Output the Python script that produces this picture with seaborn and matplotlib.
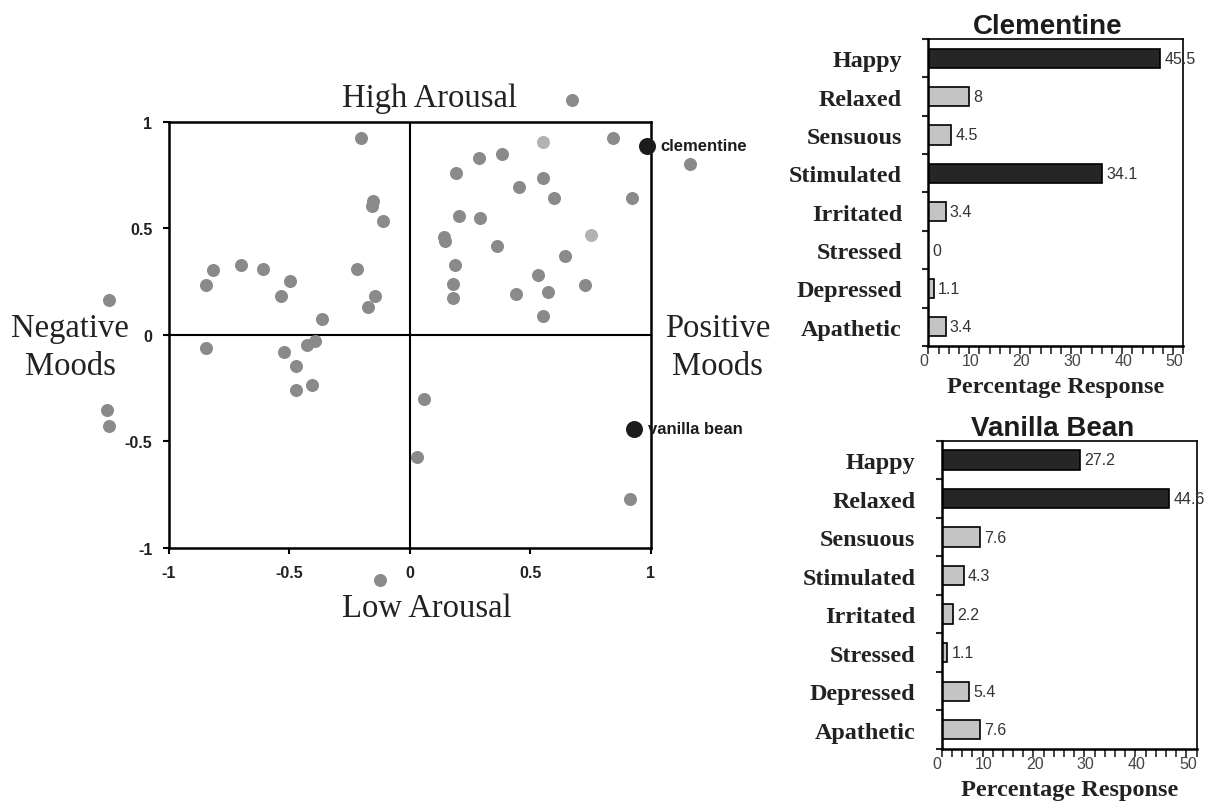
import matplotlib
matplotlib.use("Agg")
import matplotlib.pyplot as plt
import seaborn as sns
import pandas as pd
from matplotlib.ticker import FixedLocator, MultipleLocator

# --- mood map (valence on x, arousal on y) ---
other_x = [-1.248, -1.256, -1.249, -0.848, -0.816, -0.848, -0.703, -0.611, -0.535,
           -0.499, -0.524, -0.472, -0.472, -0.426, -0.394, -0.408, -0.366, -0.205,
           -0.159, -0.152, -0.113, -0.221, -0.145, -0.173, -0.124, 0.058, 0.028,
           0.913, 0.671, 0.844, 1.162, 0.288, 0.380, 0.190, 0.553, 0.452, 0.598,
           0.922, 0.205, 0.289, 0.143, 0.147, 0.360, 0.642, 0.188, 0.532, 0.177,
           0.177, 0.440, 0.571, 0.726, 0.553]
other_y = [0.164, -0.354, -0.429, 0.235, 0.305, -0.064, 0.329, 0.308, 0.180,
           0.252, -0.080, -0.146, -0.260, -0.047, -0.031, -0.235, 0.074, 0.923,
           0.606, 0.626, 0.535, 0.308, 0.180, 0.131, -1.149, -0.299, -0.571,
           -0.768, 1.103, 0.923, 0.801, 0.830, 0.848, 0.759, 0.734, 0.692, 0.642,
           0.640, 0.557, 0.548, 0.457, 0.438, 0.419, 0.369, 0.329, 0.282, 0.238,
           0.174, 0.191, 0.200, 0.233, 0.088]
pale_x = [0.553, 0.752]
pale_y = [0.906, 0.469]
flavour_names = ["clementine", "vanilla bean"]
flavour_x = [0.982, 0.929]
flavour_y = [0.887, -0.440]
map_ticks = [-1, -0.5, 0, 0.5, 1]
map_tick_labels = ["-1", "-0.5", "0", "0.5", "1"]

# --- mood profile bars ---
moods = ["Happy", "Relaxed", "Sensuous", "Stimulated", "Irritated",
         "Stressed", "Depressed", "Apathetic"]
clementine_pct = [45.5, 8, 4.5, 34.1, 3.4, 0, 1.1, 3.4]
vanilla_pct = [27.2, 44.6, 7.6, 4.3, 2.2, 1.1, 5.4, 7.6]
clementine_top = ["Happy", "Stimulated"]
vanilla_top = ["Happy", "Relaxed"]
pct_ticks = [0, 10, 20, 30, 40, 50]

SERIF = ["Liberation Serif", "DejaVu Serif"]

sns.set_theme(style="white")
plt.rcParams["font.family"] = ["Liberation Sans", "DejaVu Sans"]

fig = plt.figure(figsize=(12.05, 8.03), dpi=100)
fig.patch.set_facecolor("white")


def draw_map(ax):
    sns.scatterplot(x=other_x, y=other_y, color="#8a8a8a", s=88, linewidth=0,
                    clip_on=False, zorder=3, ax=ax)
    sns.scatterplot(x=pale_x, y=pale_y, color="#b2b2b2", s=88, linewidth=0,
                    clip_on=False, zorder=3, ax=ax)
    sns.scatterplot(x=flavour_x, y=flavour_y, color="#1c1c1c", s=150, linewidth=0,
                    clip_on=False, zorder=4, ax=ax)
    for name, fx, fy in zip(flavour_names, flavour_x, flavour_y):
        ax.annotate(name, (fx, fy), xytext=(10, 0), textcoords="offset points",
                    va="center", ha="left", fontsize=12, fontweight="bold",
                    color="#1c1c1c", annotation_clip=False)

    ax.set_xlim(-1, 1)
    ax.set_ylim(-1, 1)
    ax.axhline(0, color="black", lw=1.5, zorder=2)
    ax.axvline(0, color="black", lw=1.5, zorder=2)
    for sp in ax.spines.values():
        sp.set_visible(True)
        sp.set_color("black")
        sp.set_linewidth(1.8)
    ax.set_xticks(map_ticks)
    ax.set_xticklabels(map_tick_labels)
    ax.set_yticks(map_ticks)
    ax.set_yticklabels(map_tick_labels)
    ax.tick_params(direction="out", length=4, width=1.5, color="black",
                   labelsize=11.5, pad=8, bottom=True, left=True)
    for lab in ax.get_xticklabels() + ax.get_yticklabels():
        lab.set_fontweight("bold")
        lab.set_color("#222222")

    quad = dict(fontsize=23.5, family=SERIF, color="#222222", ha="center",
                va="baseline", clip_on=False)
    ax.text(0.083, 1.075, "High Arousal", **quad)
    ax.text(0.069, -1.319, "Low Arousal", **quad)
    ax.text(-1.409, -0.005, "Negative", **quad)
    ax.text(-1.407, -0.183, "Moods", **quad)
    ax.text(1.276, -0.005, "Positive", **quad)
    ax.text(1.276, -0.183, "Moods", **quad)


def draw_bars(ax, title, values, top, title_x):
    df = pd.DataFrame({"mood": moods, "pct": values})
    pal = {m: ("#262626" if m in top else "#c4c4c4") for m in moods}
    sns.barplot(data=df, x="pct", y="mood", hue="mood", palette=pal, legend=False,
                orient="h", width=0.5, edgecolor="black", linewidth=1.2,
                saturation=1, ax=ax)
    ax.set_xlim(0, 50)
    ax.set_ylim(7.5, -0.5)
    for i, v in enumerate(values):
        ax.text(v + 0.8, i, f"{v:g}", va="center", ha="left", fontsize=11.5,
                color="#333333", clip_on=False)

    for name, sp in ax.spines.items():
        sp.set_visible(True)
        sp.set_color("black")
        sp.set_linewidth(1.8 if name in ("left", "bottom") else 1.2)

    # tick labels sit just left of their tick, level with the tick marks
    ax.set_xticks(pct_ticks)
    ax.set_xticklabels([str(t) for t in pct_ticks], ha="right")
    ax.xaxis.set_minor_locator(MultipleLocator(2))
    ax.tick_params(axis="x", which="both", direction="out", length=6, width=1.2,
                   bottom=True, labelsize=11.5, labelcolor="#444444", pad=-1)

    ax.yaxis.set_minor_locator(FixedLocator([k - 0.5 for k in range(len(moods) + 1)]))
    ax.tick_params(axis="y", which="minor", direction="out", length=4, width=1.5,
                   left=True)
    ax.tick_params(axis="y", which="major", length=0, pad=19)
    for lab in ax.get_yticklabels():
        lab.set_family(SERIF)
        lab.set_fontweight("bold")
        lab.set_fontsize(17.4)
        lab.set_color("#222222")

    ax.set_ylabel("")
    ax.set_xlabel("Percentage Response", family=SERIF, fontweight="bold",
                  fontsize=17.5, color="#222222", labelpad=6)
    ax.set_title(title, fontsize=20, fontweight="bold", color="#1c1c1c", pad=2,
                 x=title_x)


ax_map = fig.add_axes([0.1402, 0.3163, 0.4, 0.5309])
draw_map(ax_map)

ax_clem = fig.add_axes([0.7704, 0.5679, 0.2116, 0.3823])
draw_bars(ax_clem, "Clementine", clementine_pct, clementine_top, 0.467)

ax_van = fig.add_axes([0.7815, 0.0660, 0.2116, 0.3839])
draw_bars(ax_van, "Vanilla Bean", vanilla_pct, vanilla_top, 0.434)

fig.savefig("out.png", dpi=100, facecolor="white")
